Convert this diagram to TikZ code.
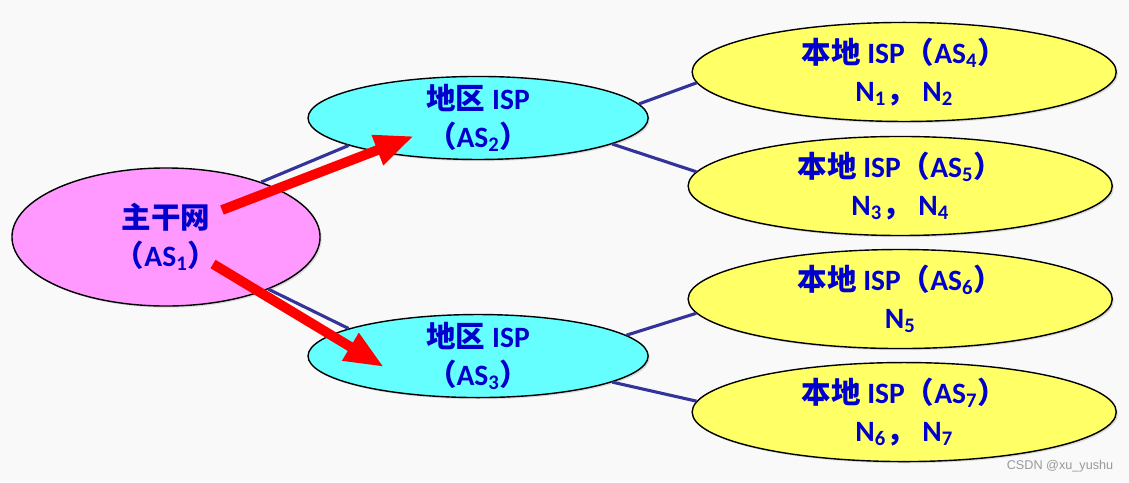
\documentclass[tikz,border=0pt]{standalone}
\usepackage{fontspec}
\setmainfont{Carlito}
\newfontfamily\cjk{Noto Sans CJK SC}
\newfontfamily\markfont{Liberation Sans}
\usetikzlibrary{positioning, arrows.meta, calc, shapes.geometric, shadows}
\definecolor{asbg}{RGB}{249,249,249}
\definecolor{aspink}{RGB}{255,153,255}
\definecolor{ascyan}{RGB}{102,255,255}
\definecolor{asyellow}{RGB}{255,255,102}
\definecolor{astext}{RGB}{0,0,204}
\definecolor{aslink}{RGB}{51,51,153}
\definecolor{asred}{RGB}{255,0,0}

\begin{document}
\begin{tikzpicture}[x=0.025cm, y=-0.025cm,
    asnode/.style={draw, ellipse, line width=1pt, inner xsep=0pt, inner ysep=-8pt, align=center, text=astext, font=\bfseries\fontsize{21}{27}\selectfont, drop shadow={opacity=0.25, shadow xshift=1.2pt, shadow yshift=-1.2pt}},
    backbone/.style={asnode, fill=aspink, minimum width=7.7cm, minimum height=3.45cm},
    region/.style={asnode, fill=ascyan, minimum width=8.5cm, minimum height=2.075cm},
    local/.style={asnode, fill=asyellow, minimum width=10.6cm, minimum height=2.475cm},
    link/.style={draw=aslink, line width=2.2pt},
    route/.style={draw=asred, line width=7pt, -{Triangle[length=28pt, width=21pt]}}]
        \useasboundingbox[fill=asbg] (0,0) rectangle (1129,482);

        \node[backbone] (as1) at (166,237) {{\cjk 主干网}\\{\cjk （}AS\textsubscript{1}{\cjk ）}};

        \node[region, above right=2.975cm and 7.8cm of as1.center, anchor=center] (as2) {{\cjk 地区} ISP\\{\cjk （}AS\textsubscript{2}{\cjk ）}};

        \node[region, below right=2.975cm and 7.8cm of as1.center, anchor=center] (as3) {{\cjk 地区} ISP\\{\cjk （}AS\textsubscript{3}{\cjk ）}};

        \node[local, above right=1.15cm and 10.65cm of as2.center, anchor=center] (as4) {{\cjk 本地} ISP{\cjk （}AS\textsubscript{4}{\cjk ）}\\N\textsubscript{1}{\cjk ，} N\textsubscript{2}};

        \node[local, below right=1.7cm and 10.55cm of as2.center, anchor=center] (as5) {{\cjk 本地} ISP{\cjk （}AS\textsubscript{5}{\cjk ）}\\N\textsubscript{3}{\cjk ，} N\textsubscript{4}};

        \node[local, above right=1.425cm and 10.55cm of as3.center, anchor=center] (as6) {{\cjk 本地} ISP{\cjk （}AS\textsubscript{6}{\cjk ）}\\N\textsubscript{5}};

        \node[local, below right=1.4cm and 10.65cm of as3.center, anchor=center] (as7) {{\cjk 本地} ISP{\cjk （}AS\textsubscript{7}{\cjk ）}\\N\textsubscript{6}{\cjk ，} N\textsubscript{7}};

        \node[font=\markfont\fontsize{9}{10}\selectfont, text=black!40] (mark) at (1060,466) {CSDN @xu\_yushu};

        \draw[link] (as1.30) -- (as2.192);
        \draw[link] (as1.-27) -- (as3.168);
        \draw[link] (as2.5) -- (as4.183);
        \draw[link] (as2.-11) -- (as5.176);
        \draw[link] (as3.8) -- (as6.184);
        \draw[link] (as3.-11) -- (as7.177);

        \coordinate (uptail) at ($(as1)+(56,-27)$);
        \coordinate (uptip) at ($(as2)+(-64,18)$);
        \coordinate (downtail) at ($(as1)+(47,27)$);
        \coordinate (downtip) at ($(as3)+(-94,11)$);
        \draw[route] (uptail) -- (uptip);
        \draw[route] (downtail) -- (downtip);
    \end{tikzpicture}
\end{document}
